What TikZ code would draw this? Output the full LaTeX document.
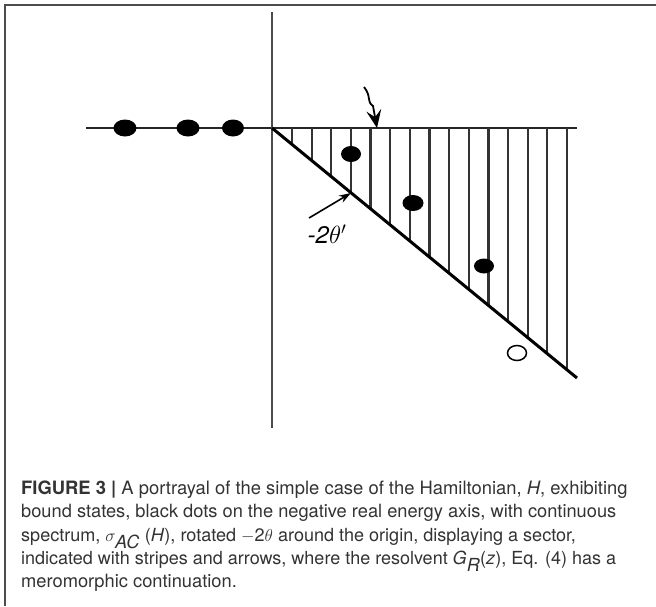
\documentclass[tikz,border=0pt]{standalone}
\usepackage{fontspec}
\setmainfont{TeX Gyre Heros}
\setsansfont{TeX Gyre Heros}
\usetikzlibrary{arrows.meta}
\newcommand{\capsz}[1]{\fontsize{#1pt}{21pt}\selectfont}
\begin{document}
\begin{tikzpicture}[x=1pt,y=-1pt,
  frameline/.style={line width=1.6pt, black!70},
  axisline/.style={line width=2.4pt, black!85},
  vaxis/.style={line width=2.6pt, black!70},
  diagline/.style={line width=3pt, black},
  stripe/.style={line width=2.2pt, black!80},
  dotfill/.style={fill=black},
  captionline/.style={anchor=base west, inner sep=0pt, text=black!80}]
\useasboundingbox (0,0) rectangle (656,606);
\draw[frameline] (656,5) -- (5,5) -- (5,606);

\coordinate (O) at (272,128);
\coordinate (axL) at (86,128);
\coordinate (axR) at (577,128);
\coordinate (axT) at (272,12);
\coordinate (axB) at (272,428);
\coordinate (diagEnd) at (577,378);

\draw[axisline] (axL) -- (axR);
\draw[vaxis] (axT) -- (axB);
\foreach \i in {0,...,14} {
  \pgfmathsetmacro\xx{292+19.64*\i}
  \pgfmathsetmacro\yy{128+0.8197*(\xx-272)}
  \draw[stripe] (\xx,128) -- (\xx,\yy);
}
\draw[diagline] (O) -- (diagEnd);

% bound states
\fill[dotfill] (125,128) ellipse [x radius=11.5pt, y radius=8.5pt];
\fill[dotfill] (188,128) ellipse [x radius=11.5pt, y radius=8.5pt];
\fill[dotfill] (233,128) ellipse [x radius=11pt, y radius=8.5pt];
% resonances
\fill[dotfill] (351,154) ellipse [x radius=10pt, y radius=8pt];
\fill[dotfill] (413,203) ellipse [x radius=10.5pt, y radius=8pt];
\fill[dotfill] (484,266) ellipse [x radius=10pt, y radius=7.5pt];
\draw[line width=1.5pt] (517,353) ellipse [x radius=9.5pt, y radius=7.5pt];

% arrows
\coordinate (topStart) at (364,87);
\coordinate (topTip) at (377,128);
\draw[line width=1.8pt, -{Stealth[length=18pt,width=15pt,inset=7pt]}]
  (topStart) .. controls (372,97) and (366,101) .. (373,106) -- (topTip);
\coordinate (lowStart) at (309,218);
\coordinate (lowTip) at (351,193);
\draw[line width=1.6pt, -{Stealth[length=12pt,width=8pt]}] (lowStart) -- (lowTip);

\node[inner sep=0pt] (lbl) at (327,234) {\fontsize{24pt}{24pt}\selectfont\itshape -2$\theta'$};

% caption
\node[captionline] (cap1) at (21,494.5) {\capsz{18.4}{\bfseries FIGURE 3 |} A portrayal of the simple case of the Hamiltonian, \textit{H}, exhibiting};
\node[captionline] (cap2) at (21,517.8) {\capsz{18.25}bound states, black dots on the negative real energy axis, with continuous};
\node[captionline] (cap3) at (21,541.1) {\capsz{18.05}spectrum, $\sigma_{\textit{AC}}$ (\textit{H}), rotated $-$2$\theta$ around the origin, displaying a sector,};
\node[captionline] (cap4) at (21,564.4) {\capsz{18}indicated with stripes and arrows, where the resolvent \textit{G}$_{\textit{R}}$(\textit{z}), Eq. (4) has a};
\node[captionline] (cap5) at (21,587.7) {\capsz{18.3}meromorphic continuation.};
\end{tikzpicture}
\end{document}
